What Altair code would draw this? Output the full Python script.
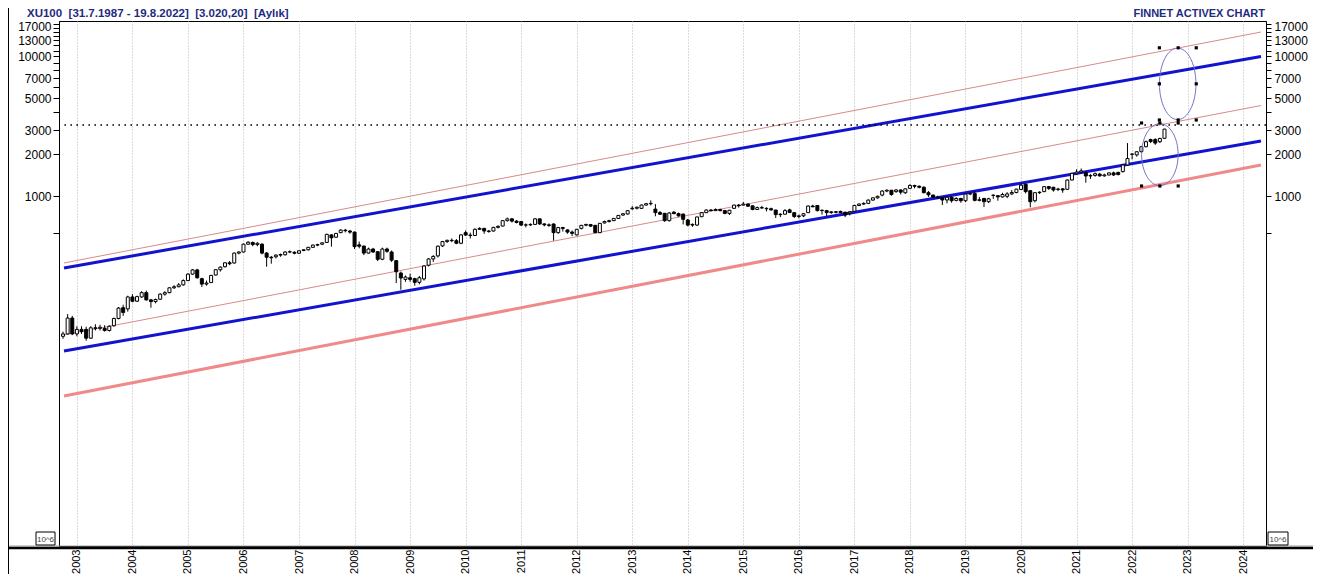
import altair as alt
import pandas as pd

# ---------------- data ----------------
START_YEAR = 2002
START_MONTH = 10  # first monthly candle: Oct 2002

opens = [
    100, 104, 135,
    104, 112, 112, 97, 115, 114, 114, 110, 119, 134, 160, 157,
    191, 178, 191, 205, 182, 177, 184, 200, 205, 222, 226, 233,
    250, 278, 298, 258, 236, 242, 274, 299, 314, 335, 334, 393,
    400, 455, 468, 452, 455, 393, 367, 370, 380, 382, 400, 398,
    392, 410, 415, 432, 448, 455, 468, 530, 510, 550, 573, 565,
    555, 450, 441, 393, 420, 402, 355, 420, 400, 347, 283, 255,
    262, 258, 243, 257, 322, 357, 375, 442, 475, 485, 482, 462,
    550, 528, 525, 581, 590, 560, 565, 600, 613, 670, 690, 665,
    660, 623, 625, 630, 690, 635, 625, 634, 550, 598, 575, 555,
    530, 590, 622, 628, 620, 550, 645, 660, 670, 695, 735, 748,
    815, 822, 820, 866, 885, 810, 765, 756, 670, 770, 752, 747,
    677, 623, 623, 715, 764, 798, 790, 805, 790, 755, 820, 866,
    866, 880, 855, 805, 830, 820, 815, 798, 740, 745, 800, 764,
    717, 725, 764, 852, 860, 790, 790, 765, 775, 780, 770, 760,
    781, 860, 880, 890, 940, 975, 1020, 1090, 1105, 1080, 1110, 1060,
    1140, 1195, 1180, 1160, 1061, 1020, 985, 980, 941, 985, 935, 965,
    930, 1038, 1045, 935, 965, 915, 1015, 1010, 990, 1000, 1040, 1065,
    1120, 1220, 1097, 930, 1061, 1080, 1172, 1160, 1120, 1130, 1122, 1307,
    1450, 1490, 1475, 1397, 1410, 1440, 1400, 1420, 1470, 1480, 1500, 1673,
    1995, 1975, 2085, 2260, 2540, 2540, 2455, 2595,
]
highs = [
    108, 144, 140,
    118, 118, 117, 118, 122, 121, 120, 120, 136, 162, 168, 195,
    200, 195, 210, 212, 185, 186, 203, 210, 224, 232, 240, 255,
    282, 302, 303, 262, 250, 275, 302, 315, 338, 345, 396, 405,
    460, 478, 475, 470, 462, 400, 375, 385, 390, 405, 410, 405,
    412, 420, 435, 452, 458, 470, 540, 535, 548, 582, 585, 575,
    560, 475, 445, 430, 428, 405, 430, 430, 410, 350, 290, 272,
    280, 262, 270, 322, 362, 380, 445, 480, 490, 500, 495, 535,
    570, 550, 590, 600, 595, 575, 605, 620, 675, 705, 700, 675,
    665, 640, 640, 700, 695, 640, 640, 640, 605, 605, 580, 570,
    585, 625, 635, 635, 625, 645, 670, 680, 700, 735, 760, 795,
    850, 845, 872, 895, 935, 880, 785, 760, 770, 785, 765, 750,
    690, 640, 715, 770, 805, 810, 820, 815, 800, 800, 870, 880,
    910, 890, 860, 845, 855, 835, 830, 800, 755, 810, 815, 770,
    740, 760, 860, 870, 865, 805, 800, 785, 785, 790, 775, 785,
    870, 890, 905, 950, 980, 1010, 1105, 1120, 1110, 1125, 1120, 1140,
    1220, 1210, 1195, 1180, 1090, 1030, 1010, 990, 1000, 1000, 985, 975,
    1045, 1065, 1090, 990, 975, 975, 1030, 1020, 1060, 1070, 1110, 1130,
    1240, 1235, 1100, 1065, 1085, 1180, 1185, 1170, 1150, 1145, 1320, 1470,
    1560, 1580, 1520, 1440, 1480, 1470, 1450, 1480, 1500, 1500, 1690, 2400,
    2030, 2100, 2290, 2500, 2580, 2600, 2620, 3030,
]
lows = [
    96, 103, 102,
    100, 104, 93, 96, 110, 110, 108, 108, 117, 132, 140, 150,
    175, 176, 188, 180, 160, 172, 182, 195, 203, 218, 224, 230,
    248, 275, 258, 225, 230, 240, 272, 290, 310, 322, 330, 385,
    398, 450, 440, 440, 385, 314, 330, 360, 370, 378, 392, 385,
    388, 405, 410, 428, 440, 448, 465, 437, 505, 545, 552, 540,
    420, 425, 380, 390, 395, 345, 350, 395, 340, 240, 215, 245,
    245, 230, 235, 250, 315, 340, 365, 435, 465, 470, 455, 455,
    520, 500, 520, 575, 540, 550, 560, 590, 610, 660, 650, 640,
    615, 600, 615, 625, 625, 610, 605, 482, 540, 560, 540, 520,
    525, 580, 610, 605, 545, 545, 640, 650, 665, 690, 725, 740,
    800, 805, 815, 860, 860, 720, 735, 657, 660, 745, 715, 630,
    610, 605, 615, 710, 760, 780, 785, 780, 745, 735, 815, 830,
    860, 840, 795, 800, 815, 780, 790, 700, 710, 740, 760, 700,
    695, 710, 760, 835, 780, 740, 720, 750, 755, 760, 710, 730,
    775, 850, 870, 880, 930, 960, 1000, 1070, 1010, 1060, 1030, 1040,
    1130, 1140, 1140, 1050, 990, 970, 960, 867, 890, 900, 920, 900,
    910, 1020, 920, 920, 838, 895, 960, 930, 980, 970, 1020, 1050,
    1110, 1050, 834, 905, 1040, 1070, 1110, 1080, 1090, 1060, 1110, 1300,
    1430, 1460, 1251, 1330, 1380, 1380, 1380, 1410, 1400, 1410, 1480, 1650,
    1840, 1920, 2040, 2240, 2400, 2330, 2400, 2580,
]
closes = [
    104, 135, 104,
    112, 108, 97, 115, 114, 116, 110, 118, 134, 159, 148, 191,
    178, 192, 205, 182, 177, 183, 200, 205, 222, 226, 233, 250,
    278, 298, 262, 236, 240, 272, 299, 312, 335, 330, 393, 400,
    455, 470, 452, 462, 393, 367, 364, 380, 384, 400, 402, 392,
    408, 415, 432, 448, 452, 465, 535, 505, 543, 573, 568, 555,
    437, 440, 393, 420, 400, 355, 420, 405, 350, 289, 261, 265,
    255, 243, 262, 318, 357, 372, 440, 475, 485, 482, 462, 530,
    529, 525, 581, 590, 565, 565, 600, 610, 670, 690, 665, 650,
    623, 625, 630, 690, 635, 625, 620, 550, 598, 590, 555, 544,
    581, 620, 630, 612, 550, 641, 660, 670, 695, 730, 750, 789,
    822, 835, 866, 885, 890, 765, 745, 670, 760, 752, 725, 685,
    623, 630, 712, 764, 798, 790, 805, 790, 755, 795, 866, 857,
    880, 850, 805, 830, 825, 815, 800, 740, 745, 790, 765, 717,
    725, 750, 852, 842, 790, 795, 765, 775, 770, 765, 735, 775,
    860, 880, 890, 940, 975, 1000, 1090, 1105, 1030, 1110, 1070, 1130,
    1195, 1180, 1160, 1061, 1025, 985, 975, 941, 985, 930, 965, 930,
    1038, 1045, 935, 945, 915, 960, 1020, 990, 1030, 1040, 1065, 1125,
    1200, 1080, 915, 1061, 1070, 1172, 1140, 1110, 1125, 1110, 1307, 1459,
    1490, 1520, 1397, 1410, 1450, 1400, 1420, 1470, 1420, 1430, 1673, 1860,
    2005, 2080, 2260, 2455, 2460, 2400, 2590, 3020,
]

YEARS = list(range(2003, 2025))
Y_TICKS = [550, 1000, 2000, 3000, 4000, 5000, 6000, 7000, 8000, 9000, 10000,
           11000, 12000, 13000, 14000, 15000, 16000, 17000]
Y_LABELED = [1000, 2000, 3000, 5000, 7000, 10000, 13000, 17000]

X_DOMAIN = [2002.768, 2024.321]
Y_DOMAIN = [3.178, 17871]

# trend channel end points (time, value)
CHANNEL_T = [2002.768, 2024.321]
BLUE_UPPER = [307.5, 9970]
BLUE_LOWER = [78.5, 2483]
RED_UPPER = [334, 14913]
RED_MIDDLE = [102.2, 4452]
SALMON_LOWER = [37.5, 1673]

LEVEL = 3230  # dotted horizontal line

ELLIPSE_T = [2022.821, 2022.5]
ELLIPSE_V = [6357, 1984]

HANDLE_T = [2022.491, 2022.830, 2023.155, 2022.491, 2023.155, 2022.491, 2022.830, 2023.155,
            2022.170, 2022.500, 2022.830, 2022.170, 2022.500, 2022.830]
HANDLE_V = [11500, 11500, 11500, 6357, 6357, 3508, 3508, 3508,
            3339, 3339, 3339, 1185, 1185, 1185]

TITLE_LEFT = "XU100\u00a0 [31.7.1987 - 19.8.2022]\u00a0 [3.020,20]\u00a0 [Aylık]"
TITLE_RIGHT = "FİNNET ACTIVEX CHART"
SCALE_TAG = "10^6"

# ---------------- build ----------------
n = len(closes)
if not (len(opens) == len(highs) == len(lows) == n):
    raise ValueError(f"length mismatch {len(opens)} {len(highs)} {len(lows)} {n}")

months = [START_YEAR + (START_MONTH - 1 + i) / 12 for i in range(n)]
candles = pd.DataFrame({"t": months, "open": opens, "high": highs,
                        "low": lows, "close": closes})

W, H = 1207, 525
# svg kept inside the 1321x588 window (8px body margin on every side)
PAD = {"left": 51, "top": 13, "right": 47, "bottom": 28}
SVG_W = W + PAD["left"] + PAD["right"]
SVG_H = H + PAD["top"] + PAD["bottom"]

FONT = "Liberation Sans"
xs = alt.Scale(domain=X_DOMAIN, nice=False, zero=False)
ys = alt.Scale(type="log", domain=Y_DOMAIN, nice=False)

label_expr = ("indexof([" + ",".join(str(v) for v in Y_LABELED) +
              "], datum.value) >= 0 ? datum.label : ''")
TOP_TICK = max(Y_TICKS)

# identical x axis on every layer so the shared axis is never disabled
X_AXIS = alt.Axis(values=YEARS, format="d", labelAngle=270, labelAlign="right",
                  labelBaseline="middle", labelFontSize=11,
                  labelFont=FONT, labelColor="black", labelPadding=3,
                  grid=True, gridColor="#B4B4B4", gridDash=[1, 2], gridWidth=1,
                  ticks=False, domain=False, title=None,
                  labelOverlap=False, labelFlush=False)


def X(field="t"):
    return alt.X(f"{field}:Q", scale=xs, axis=X_AXIS)


def y_axis(orient, tick, pad):
    return alt.Axis(orient=orient, values=Y_TICKS, format="d", labelExpr=label_expr,
                    tickSize=tick, labelPadding=pad, labelFontSize=12, labelFont=FONT,
                    labelColor="black", tickColor="black", domainColor="black",
                    labelOffset={"condition": {"test": f"datum.value == {TOP_TICK}",
                                               "value": 2.5}, "value": 0.5},
                    grid=False, title=None, labelOverlap=False, labelFlush=False)


def lines_df(pairs):
    rows = []
    for name, vals in pairs:
        for t, v in zip(CHANNEL_T, vals):
            rows.append({"t": t, "v": v, "line": name})
    return pd.DataFrame(rows)


def line_layer(df, color, width, yaxis=None):
    return alt.Chart(df).mark_line(color=color, strokeWidth=width, clip=True).encode(
        x=X(),
        y=alt.Y("v:Q", scale=ys, axis=yaxis),
        detail="line:N",
    )


thin_red = line_layer(lines_df([("ru", RED_UPPER), ("rm", RED_MIDDLE)]), "#D98A8A", 1,
                      yaxis=y_axis("left", 6, 2))
blue = line_layer(lines_df([("bu", BLUE_UPPER), ("bl", BLUE_LOWER)]), "#1212CF", 3)
salmon = line_layer(lines_df([("s", SALMON_LOWER)]), "#F08A8A", 3)

level = alt.Chart(pd.DataFrame({"v": [LEVEL]})).mark_rule(
    color="black", strokeWidth=1.6, strokeDash=[1.6, 4.4]
).encode(y=alt.Y("v:Q", scale=ys, axis=None))

wicks = alt.Chart(candles).mark_rule(color="black", strokeWidth=1).encode(
    x=X(),
    y=alt.Y("low:Q", scale=ys, axis=y_axis("right", 5, 3)),
    y2="high:Q",
)

bodies = alt.Chart(candles).mark_bar(size=3, stroke="black", strokeWidth=1).encode(
    x=X(),
    y=alt.Y("open:Q", scale=ys, axis=None),
    y2="close:Q",
    fill=alt.condition("datum.close >= datum.open", alt.value("white"), alt.value("black")),
)


def ellipse_path(rx, ry):
    k = 0.5523
    f = lambda v: f"{v:.4f}"
    return (f"M 0 {f(-ry)} C {f(k*rx)} {f(-ry)} {f(rx)} {f(-k*ry)} {f(rx)} 0 "
            f"C {f(rx)} {f(k*ry)} {f(k*rx)} {f(ry)} 0 {f(ry)} "
            f"C {f(-k*rx)} {f(ry)} {f(-rx)} {f(k*ry)} {f(-rx)} 0 "
            f"C {f(-rx)} {f(-k*ry)} {f(-k*rx)} {f(-ry)} 0 {f(-ry)} Z")


ell_specs = [(36.5, 71.5), (36.5, 62.0)]
ellipses = []
for i, (ew, eh) in enumerate(ell_specs):
    ellipses.append(
        alt.Chart(pd.DataFrame({"t": [ELLIPSE_T[i]], "v": [ELLIPSE_V[i]]}))
        .mark_point(shape=ellipse_path(ew / eh, 1.0), size=eh * eh, filled=False,
                    stroke="#7474C4", strokeWidth=1, opacity=1)
        .encode(x=X(), y=alt.Y("v:Q", scale=ys, axis=None))
    )

handles = alt.Chart(pd.DataFrame({"t": HANDLE_T, "v": HANDLE_V})).mark_square(
    size=10, color="black", opacity=1
).encode(x=X(), y=alt.Y("v:Q", scale=ys, axis=None))

one = pd.DataFrame({"k": [0]})


def text_px(txt, x, y, align, size, color, weight="normal"):
    return alt.Chart(pd.DataFrame({"txt": [txt]})).mark_text(
        align=align, baseline="alphabetic", font=FONT, fontSize=size,
        fontWeight=weight, color=color
    ).encode(text="txt:N", x=alt.value(x), y=alt.value(y))


def rule_px(x, x2, y, y2, color, width):
    return alt.Chart(one).mark_rule(color=color, strokeWidth=width).encode(
        x=alt.value(x), x2=alt.value(x2), y=alt.value(y), y2=alt.value(y2))


def box_px(x, x2, y, y2):
    return alt.Chart(one).mark_rect(fill="white", stroke="black", strokeWidth=1).encode(
        x=alt.value(x), x2=alt.value(x2), y=alt.value(y), y2=alt.value(y2))


L = -PAD["left"]
R = SVG_W - PAD["left"]

decor = [
    rule_px(L, R, H + 0.0, H + 0.0, "#A0A0A0", 1),
    rule_px(L, R, H + 2.0, H + 2.0, "black", 2.5),
    box_px(-23, -4, H - 14, H - 1),
    box_px(W + 2, W + 22, H - 14, H - 1),
    text_px(SCALE_TAG, -13.5, H - 4.5, "center", 8, "#444444"),
    text_px(SCALE_TAG, W + 12, H - 4.5, "center", 8, "#444444"),
    text_px(TITLE_LEFT, -32, -3.7, "left", 11.5, "#1F2B80", "bold"),
    text_px(TITLE_RIGHT, W - 1, -3.7, "right", 11, "#1F2B80", "bold"),
    # outer frame left edge
    rule_px(L + 0.5, L + 0.5, -PAD["top"], SVG_H - PAD["top"], "black", 1),
]

chart = alt.layer(
    thin_red, blue, salmon, level, wicks, bodies, *ellipses, handles, *decor
).resolve_axis(y="independent").properties(
    width=W, height=H, padding=PAD,
    autosize=alt.AutoSizeParams(type="none"),
    background="white",
).configure_view(stroke="black", strokeWidth=1)

chart.save("out.html", embed_options={"renderer": "svg", "actions": False})
